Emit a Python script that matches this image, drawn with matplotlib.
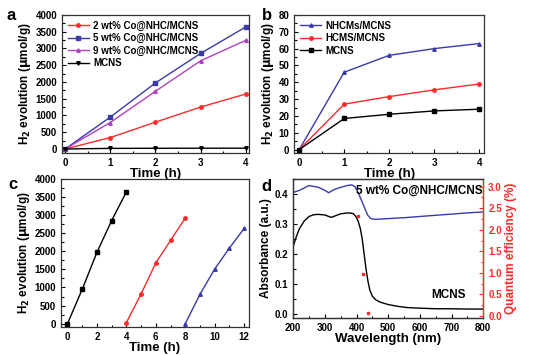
import matplotlib
matplotlib.use("Agg")
import matplotlib.pyplot as plt
from matplotlib.ticker import MultipleLocator

plt.rcParams['font.family'] = ['Liberation Sans', 'DejaVu Sans']
plt.rcParams['font.weight'] = 'bold'
plt.rcParams['axes.labelweight'] = 'bold'

RED = '#ff2a2a'
BLUE = '#3a3aaa'
PURPLE = '#b040c0'

# panel a
t = [0, 1, 2, 3, 4]
co2 = [0, 340, 800, 1250, 1640]
co5 = [0, 950, 1970, 2850, 3640]
co9 = [0, 790, 1720, 2630, 3240]
mcns_a = [0, 18, 21, 23, 24]

# panel b
nhcm = [0, 46, 56, 60, 63]
hcms = [0, 27, 31.5, 35.5, 39]
mcns_b = [0, 18.5, 21, 23, 24]

# panel c
t1 = [0, 1, 2, 3, 4]
run1 = [0, 950, 1970, 2850, 3640]
t2 = [4, 5, 6, 7, 8]
run2 = [30, 820, 1680, 2300, 2920]
t3 = [8, 9, 10, 11, 12]
run3 = [0, 810, 1510, 2090, 2630]

# panel d
wl_co = [200, 220, 250, 280, 300, 312, 330, 350, 370, 385, 395, 405, 415, 425,
         435, 445, 455, 470, 500, 550, 600, 650, 700, 750, 800]
abs_co = [0.405, 0.412, 0.428, 0.422, 0.412, 0.404, 0.415, 0.422, 0.428, 0.430,
          0.424, 0.405, 0.38, 0.355, 0.33, 0.318, 0.316, 0.316, 0.318, 0.321,
          0.325, 0.329, 0.333, 0.337, 0.340]
wl_m = [200, 210, 220, 235, 250, 265, 280, 300, 320, 335, 350, 365, 380, 390,
        398, 405, 412, 418, 424, 430, 436, 442, 450, 460, 475, 500, 530, 560,
        600, 650, 700, 750, 800]
abs_m = [0.225, 0.258, 0.285, 0.31, 0.325, 0.331, 0.332, 0.330, 0.322, 0.328,
         0.334, 0.336, 0.337, 0.334, 0.325, 0.31, 0.285, 0.25, 0.20, 0.15,
         0.11, 0.08, 0.06, 0.048, 0.04, 0.032, 0.026, 0.022, 0.02, 0.018,
         0.018, 0.017, 0.017]
qe_wl = [405, 420, 435]
qe = [2.32, 0.98, 0.07]

fig = plt.figure(figsize=(5.34, 3.55), dpi=100)

TS = 7
LS = 9.5


def style(ax):
    ax.tick_params(direction='in', which='both', labelsize=TS, width=0.8)
    ax.tick_params(which='major', length=3)
    ax.tick_params(which='minor', length=1.8)
    for s in ax.spines.values():
        s.set_linewidth(0.9)
        s.set_color('#333333')


def h2_label(ax):
    ax.set_ylabel(r'H$_\mathbf{2}$ evolution ($\mathbf{\mu}$mol/g)', fontsize=8.5, labelpad=2)


ax = fig.add_axes([0.116, 0.569, 0.350, 0.389])
ax.plot(t, co2, '-o', color=RED, ms=2.5, lw=1, label='2 wt% Co@NHC/MCNS')
ax.plot(t, co5, '-s', color=BLUE, ms=2.5, lw=1, label='5 wt% Co@NHC/MCNS')
ax.plot(t, co9, '-^', color=PURPLE, ms=2.5, lw=1, label='9 wt% Co@NHC/MCNS')
ax.plot(t, mcns_a, '-v', color='black', ms=2.5, lw=1, label='MCNS')
ax.set_xlim(-0.07, 4.07)
ax.set_ylim(-120, 4000)
ax.xaxis.set_major_locator(MultipleLocator(1))
ax.xaxis.set_minor_locator(MultipleLocator(0.5))
ax.yaxis.set_major_locator(MultipleLocator(500))
ax.yaxis.set_minor_locator(MultipleLocator(250))
ax.set_xlabel('Time (h)', fontsize=LS, labelpad=0)
h2_label(ax)
ax.legend(loc='upper left', frameon=False, fontsize=7, handlelength=2.2,
          borderaxespad=0.2, labelspacing=0.25, handletextpad=0.4)
style(ax)

ax = fig.add_axes([0.551, 0.569, 0.356, 0.389])
ax.plot(t, nhcm, '-^', color=BLUE, ms=2.5, lw=1, label='NHCMs/MCNS')
ax.plot(t, hcms, '-o', color=RED, ms=2.5, lw=1, label='HCMS/MCNS')
ax.plot(t, mcns_b, '-s', color='black', ms=2.5, lw=1, label='MCNS')
ax.set_xlim(-0.11, 4.11)
ax.set_ylim(-2, 80)
ax.xaxis.set_major_locator(MultipleLocator(1))
ax.xaxis.set_minor_locator(MultipleLocator(0.5))
ax.yaxis.set_major_locator(MultipleLocator(10))
ax.yaxis.set_minor_locator(MultipleLocator(5))
ax.set_xlabel('Time (h)', fontsize=LS, labelpad=0)
h2_label(ax)
ax.legend(loc='upper left', frameon=False, fontsize=7, handlelength=2.2,
          borderaxespad=0.2, labelspacing=0.25, handletextpad=0.4)
style(ax)

ax = fig.add_axes([0.114, 0.079, 0.352, 0.417])
ax.plot(t1, run1, '-s', color='black', ms=2.5, lw=1)
ax.plot(t2, run2, '-o', color=RED, ms=2.5, lw=1)
ax.plot(t3, run3, '-^', color=BLUE, ms=2.5, lw=1)
ax.set_xlim(-0.45, 12.32)
ax.set_ylim(-91, 4000)
ax.xaxis.set_major_locator(MultipleLocator(2))
ax.xaxis.set_minor_locator(MultipleLocator(1))
ax.yaxis.set_major_locator(MultipleLocator(500))
ax.yaxis.set_minor_locator(MultipleLocator(250))
ax.set_xlabel('Time (h)', fontsize=LS, labelpad=0)
h2_label(ax)
style(ax)

ax = fig.add_axes([0.549, 0.104, 0.356, 0.392])
ax.plot(wl_co, abs_co, color=BLUE, lw=1)
ax.plot(wl_m, abs_m, color='black', lw=1)
ax.set_xlim(200, 800)
ax.set_ylim(-0.013, 0.45)
ax.xaxis.set_major_locator(MultipleLocator(100))
ax.xaxis.set_minor_locator(MultipleLocator(50))
ax.yaxis.set_major_locator(MultipleLocator(0.1))
ax.yaxis.set_minor_locator(MultipleLocator(0.05))
ax.set_xlabel('Wavelength (nm)', fontsize=LS, labelpad=0)
ax.set_ylabel('Absorbance (a.u.)', fontsize=8.5, labelpad=2)
ax.text(0.33, 0.955, '5 wt% Co@NHC/MCNS', transform=ax.transAxes, fontsize=8.5,
        fontweight='bold', va='top')
ax.text(0.725, 0.145, 'MCNS', transform=ax.transAxes, fontsize=8.5,
        fontweight='bold')
style(ax)
ax.tick_params(right=False, which='both')
ax2 = ax.twinx()
ax2.plot(qe_wl, qe, 's', color=RED, ms=2)
ax2.set_ylim(-0.05, 3.18)
ax2.yaxis.set_major_locator(MultipleLocator(0.5))
ax2.yaxis.set_minor_locator(MultipleLocator(0.25))
ax2.set_ylabel('Quantum efficiency (%)', fontsize=8.5, color=RED, labelpad=2)
style(ax2)
ax2.tick_params(axis='y', which='both', colors=RED)
ax2.spines['right'].set_color(RED)

for x, y, s in [(0.012, 0.955, 'a'), (0.49, 0.955, 'b'), (0.015, 0.48, 'c'), (0.49, 0.475, 'd')]:
    fig.text(x, y, s, fontsize=12, fontweight='bold', va='center')

fig.savefig('out.png', dpi=100)
